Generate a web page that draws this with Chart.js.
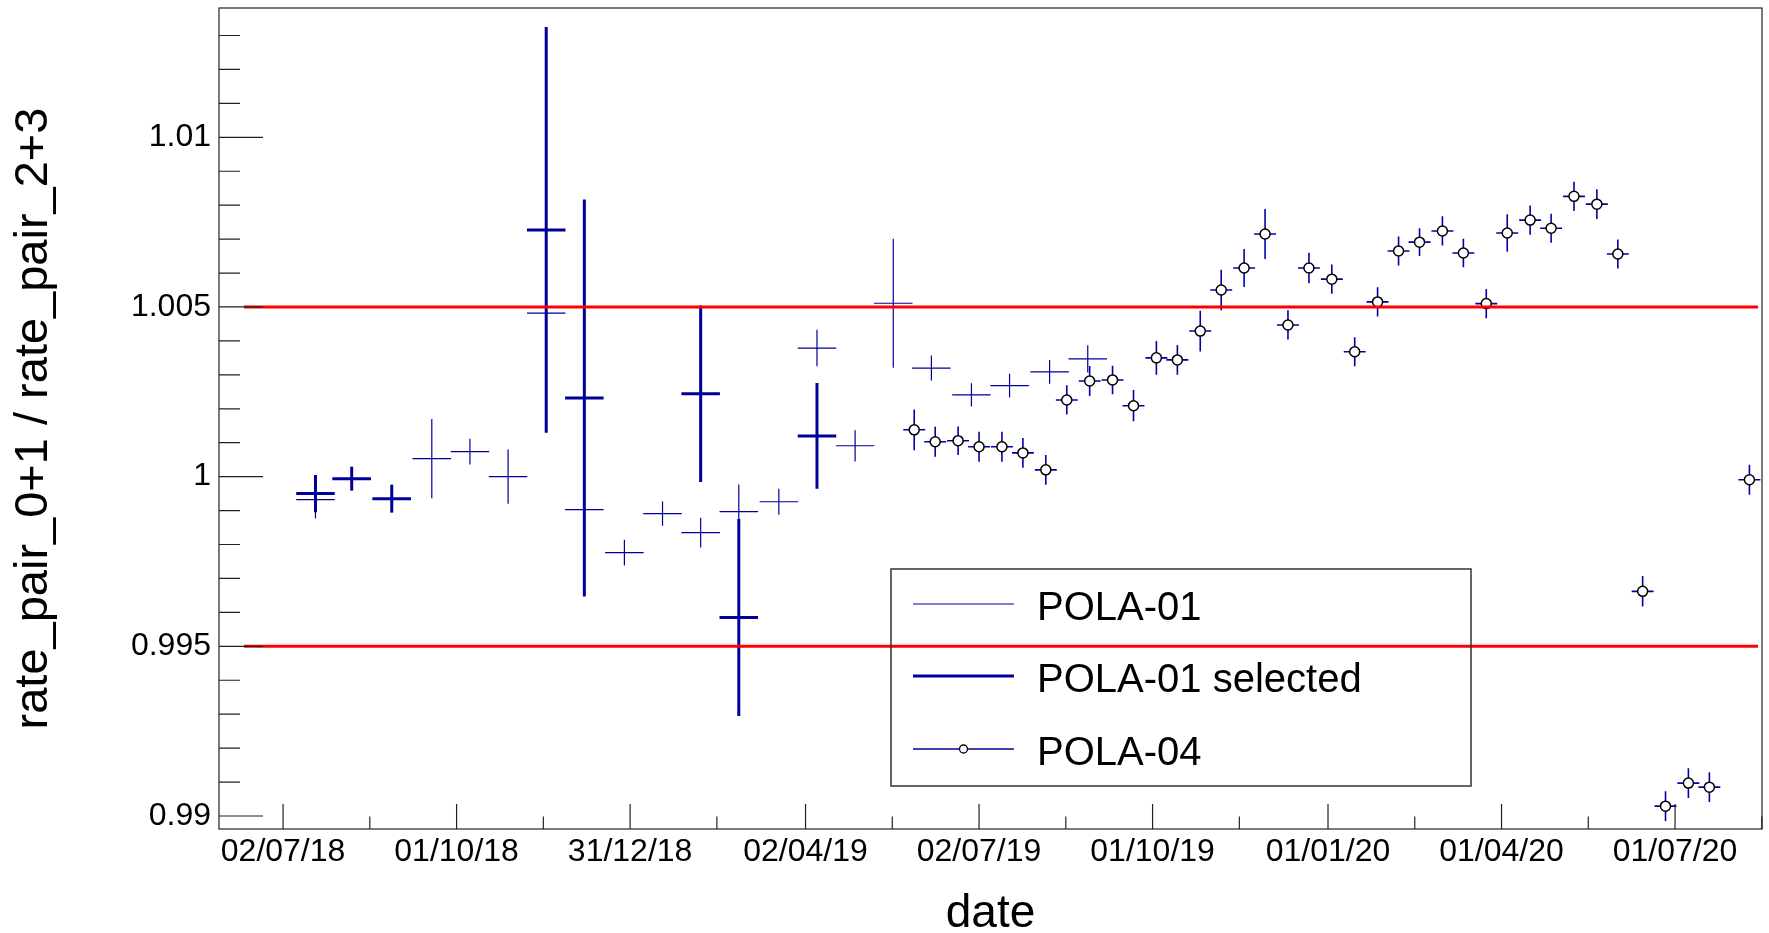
<!DOCTYPE html>
<html lang="en">
  <head>
    <meta charset="UTF-8" />
    <title>rate_pair_0+1 / rate_pair_2+3 vs date</title>
    <style>
      html, body { margin: 0; padding: 0; background: #fff; }
    </style>
  </head>
  <body>
    <canvas id="my-chart" width="1769" height="933"></canvas>

    <script src="https://cdn.jsdelivr.net/npm/chart.js"></script>
    <script>
      // x values are days after 02/07/18
      const startDate = "02/07/18";

      const seriesNames = ["POLA-01", "POLA-01 selected", "POLA-04"];

      const pola01Days = [17, 36, 57, 78, 98, 118, 138, 158, 179, 199, 219, 239, 260, 280, 300, 320, 340, 361, 381, 402, 422];
      const pola01Values = [0.99932, 0.99994, 0.99935, 1.00053, 1.00074, 1.0, 1.00482, 0.99903, 0.99776, 0.99891, 0.99835,
        0.99897, 0.99926, 1.00379, 1.00091, 1.00511, 1.0032, 1.00241, 1.00268, 1.00309, 1.00347];
      const pola01Errors = [0.00055, 0.00035, 0.00041, 0.00117, 0.00038, 0.0008, 0.0035, 0.002, 0.00038, 0.00036, 0.00044,
        0.0008, 0.00038, 0.00054, 0.00046, 0.0019, 0.00037, 0.00034, 0.00035, 0.00035, 0.0004];
      const pola01HalfWidth = 10.1;

      const selectedDays = [17, 36, 57, 138, 158, 219, 239, 280];
      const selectedValues = [0.9995, 0.99994, 0.99935, 1.00727, 1.00232, 1.00244, 0.99585, 1.0012];
      const selectedErrors = [0.00055, 0.00035, 0.00041, 0.00598, 0.00585, 0.0026, 0.0029, 0.00156];

      const pola04Days = [331, 342, 354, 365, 377, 388, 400, 411, 423, 435, 446, 458, 469, 481, 492, 504, 515, 527, 538,
        550, 562, 574, 585, 596, 608, 619, 631, 642, 654, 665, 677, 689, 700, 713, 725, 737, 748, 769];
      const pola04Values = [1.00138, 1.00103, 1.00106, 1.00088, 1.00088, 1.0007, 1.0002, 1.00226, 1.00282, 1.00285,
        1.00209, 1.0035, 1.00344, 1.00429, 1.0055, 1.00615, 1.00715, 1.00447, 1.00615, 1.00582, 1.00368, 1.00515,
        1.00665, 1.00691, 1.00724, 1.00659, 1.0051, 1.00718, 1.00756, 1.00732, 1.00826, 1.00803, 1.00656, 0.99662,
        0.99029, 0.99097, 0.99085, 0.99991];
      const pola04Errors = [0.0006, 0.00044, 0.00042, 0.00044, 0.00044, 0.00044, 0.00044, 0.00043, 0.00044, 0.00042,
        0.00046, 0.0005, 0.00044, 0.0006, 0.0006, 0.00056, 0.00074, 0.00043, 0.00045, 0.00043, 0.00043, 0.00043,
        0.00043, 0.00041, 0.00043, 0.00042, 0.00043, 0.00055, 0.00043, 0.00043, 0.00043, 0.00044, 0.00043, 0.00045,
        0.00044, 0.00044, 0.00044, 0.00044];
      const pola04HalfWidth = 5.75;

      const limitValues = [1.005, 0.995];
      const limitDays = [-20.5, 773.5];

      const xTickLabels = ["02/07/18", "01/10/18", "31/12/18", "02/04/19", "02/07/19", "01/10/19", "01/01/20", "01/04/20", "01/07/20"];
      const yTickValues = [0.99, 0.995, 1, 1.005, 1.01];
      const xRangeDays = [-33.6, 775.6];
      const yRange = [0.989617, 1.01381];

      const DAY = 86400000;
      const FONT = "'Liberation Sans', Arial, Helvetica, sans-serif";

      function parseLabel(s) {
        const [d, m, y] = s.split("/").map(Number);
        return Date.UTC(2000 + y, m - 1, d);
      }
      const startTime = parseLabel(startDate);
      function toTime(day) {
        return startTime + day * DAY;
      }

      // each error cross = horizontal + vertical segment, split by null points
      function crossPoints(days, values, errors, halfWidth) {
        const pts = [];
        days.forEach((d, i) => {
          const x = toTime(d);
          const y = values[i];
          const e = errors[i];
          pts.push({ x: toTime(d - halfWidth), y: y }, { x: toTime(d + halfWidth), y: y }, { x: x, y: null });
          pts.push({ x: x, y: y - e }, { x: x, y: y + e }, { x: x, y: null });
        });
        return pts;
      }

      function segmentStyle(color, width) {
        return {
          type: "line",
          borderColor: color,
          backgroundColor: color,
          borderWidth: width,
          pointRadius: 0,
          pointHoverRadius: 0,
          spanGaps: false,
          tension: 0,
          fill: false,
        };
      }

      const frameAndTicks = {
        id: "frameAndTicks",
        afterDraw(chart) {
          const ctx = chart.ctx;
          const a = chart.chartArea;
          const xs = chart.scales.x;
          const ys = chart.scales.y;
          ctx.save();
          ctx.strokeStyle = "#222";
          ctx.lineWidth = 1.2;
          ctx.strokeRect(a.left, a.top, a.right - a.left, a.bottom - a.top);

          ctx.beginPath();
          // x ticks, drawn inward from the bottom
          const xMajor = xs.ticks.map((t) => t.value);
          const step = xMajor[1] - xMajor[0];
          xMajor.forEach((v, i) => {
            const px = xs.getPixelForValue(v);
            ctx.moveTo(px, a.bottom);
            ctx.lineTo(px, a.bottom - 25);
            const mids = [v + step / 2];
            if (i === 0) mids.push(v - step / 2);
            mids.forEach((m) => {
              if (m >= xs.min && m <= xs.max) {
                const mp = xs.getPixelForValue(m);
                ctx.moveTo(mp, a.bottom);
                ctx.lineTo(mp, a.bottom - 12.5);
              }
            });
          });
          // y ticks every 0.001, major every 0.005
          for (let k = 989; k <= 1014; k++) {
            const v = k / 1000;
            if (v < ys.min || v > ys.max) continue;
            const py = ys.getPixelForValue(v);
            const len = k % 5 === 0 ? 44 : 21;
            ctx.moveTo(a.left, py);
            ctx.lineTo(a.left + len, py);
          }
          ctx.stroke();
          ctx.restore();
        },
      };

      const rootLegend = {
        id: "rootLegend",
        afterDatasetsDraw(chart) {
          const ctx = chart.ctx;
          const box = { left: 891, top: 569, right: 1471, bottom: 786 };
          const rows = [604, 676, 749];
          ctx.save();
          ctx.strokeStyle = "#333";
          ctx.lineWidth = 1.5;
          ctx.strokeRect(box.left, box.top, box.right - box.left, box.bottom - box.top);

          const widths = [1.2, 3, 1.6];
          rows.forEach((ry, i) => {
            ctx.beginPath();
            ctx.strokeStyle = "#000099";
            ctx.lineWidth = widths[i];
            ctx.moveTo(913, ry);
            ctx.lineTo(1014, ry);
            ctx.stroke();
            if (i === 2) {
              ctx.beginPath();
              ctx.arc(963.5, ry, 4, 0, Math.PI * 2);
              ctx.fillStyle = "#fff";
              ctx.fill();
              ctx.strokeStyle = "#000";
              ctx.lineWidth = 1.3;
              ctx.stroke();
            }
            ctx.fillStyle = "#000";
            ctx.font = "40px " + FONT;
            ctx.textBaseline = "alphabetic";
            ctx.textAlign = "left";
            ctx.fillText(seriesNames[i], 1037, ry + 16);
          });
          ctx.restore();
        },
      };

      const chartConfig = {
        type: "line",
        data: {
          datasets: [
            Object.assign(segmentStyle("#ff0000", 3), {
              label: "upper limit",
              data: limitDays.map((d) => ({ x: toTime(d), y: limitValues[0] })),
            }),
            Object.assign(segmentStyle("#ff0000", 3), {
              label: "lower limit",
              data: limitDays.map((d) => ({ x: toTime(d), y: limitValues[1] })),
            }),
            {
              type: "scatter",
              label: seriesNames[2] + " markers",
              data: pola04Days.map((d, i) => ({ x: toTime(d), y: pola04Values[i] })),
              pointRadius: 5,
              pointHoverRadius: 5,
              pointBackgroundColor: "#ffffff",
              pointBorderColor: "#000000",
              pointBorderWidth: 1.5,
              showLine: false,
            },
            Object.assign(segmentStyle("#0000aa", 1.6), {
              label: seriesNames[2],
              data: crossPoints(pola04Days, pola04Values, pola04Errors, pola04HalfWidth),
            }),
            Object.assign(segmentStyle("#000099", 3), {
              label: seriesNames[1],
              data: crossPoints(selectedDays, selectedValues, selectedErrors, pola01HalfWidth),
            }),
            Object.assign(segmentStyle("#000099", 1.2), {
              label: seriesNames[0],
              data: crossPoints(pola01Days, pola01Values, pola01Errors, pola01HalfWidth),
            }),
          ],
        },
        options: {
          responsive: false,
          animation: false,
          devicePixelRatio: 1,
          layout: { padding: { left: 0, top: 8, right: 7, bottom: 0 } },
          plugins: {
            legend: { display: false },
            tooltip: { enabled: false },
          },
          scales: {
            x: {
              type: "linear",
              position: "bottom",
              min: toTime(xRangeDays[0]),
              max: toTime(xRangeDays[1]),
              grid: { display: false, drawTicks: false },
              border: { display: false },
              afterBuildTicks: (scale) => {
                scale.ticks = xTickLabels.map((s) => ({ value: parseLabel(s) }));
              },
              afterFit: (scale) => {
                scale.height = 104;
              },
              ticks: {
                autoSkip: false,
                maxRotation: 0,
                padding: 4,
                color: "#000",
                font: { family: FONT, size: 32 },
                callback: (v, i) => xTickLabels[i],
              },
              title: {
                display: true,
                text: "date",
                color: "#000",
                font: { family: FONT, size: 46, lineHeight: 0.8 },
                padding: { top: 0, bottom: 0 },
              },
            },
            y: {
              type: "linear",
              min: yRange[0],
              max: yRange[1],
              grid: { display: false, drawTicks: false },
              border: { display: false },
              afterBuildTicks: (scale) => {
                scale.ticks = yTickValues.map((v) => ({ value: v }));
              },
              afterFit: (scale) => {
                scale.width = 219;
                scale.paddingTop = 0;
                scale.paddingBottom = 0;
              },
              ticks: {
                padding: 8,
                color: "#000",
                font: { family: FONT, size: 32 },
                callback: (v) => String(parseFloat(v.toFixed(3))),
              },
              title: {
                display: true,
                text: "rate_pair_0+1 / rate_pair_2+3",
                color: "#000",
                font: { family: FONT, size: 47, lineHeight: 1.2 },
                padding: { top: 6, bottom: 0 },
              },
            },
          },
        },
        plugins: [frameAndTicks, rootLegend],
      };

      const chart = new Chart(document.getElementById("my-chart").getContext("2d"), chartConfig);
    </script>
  </body>
</html>
